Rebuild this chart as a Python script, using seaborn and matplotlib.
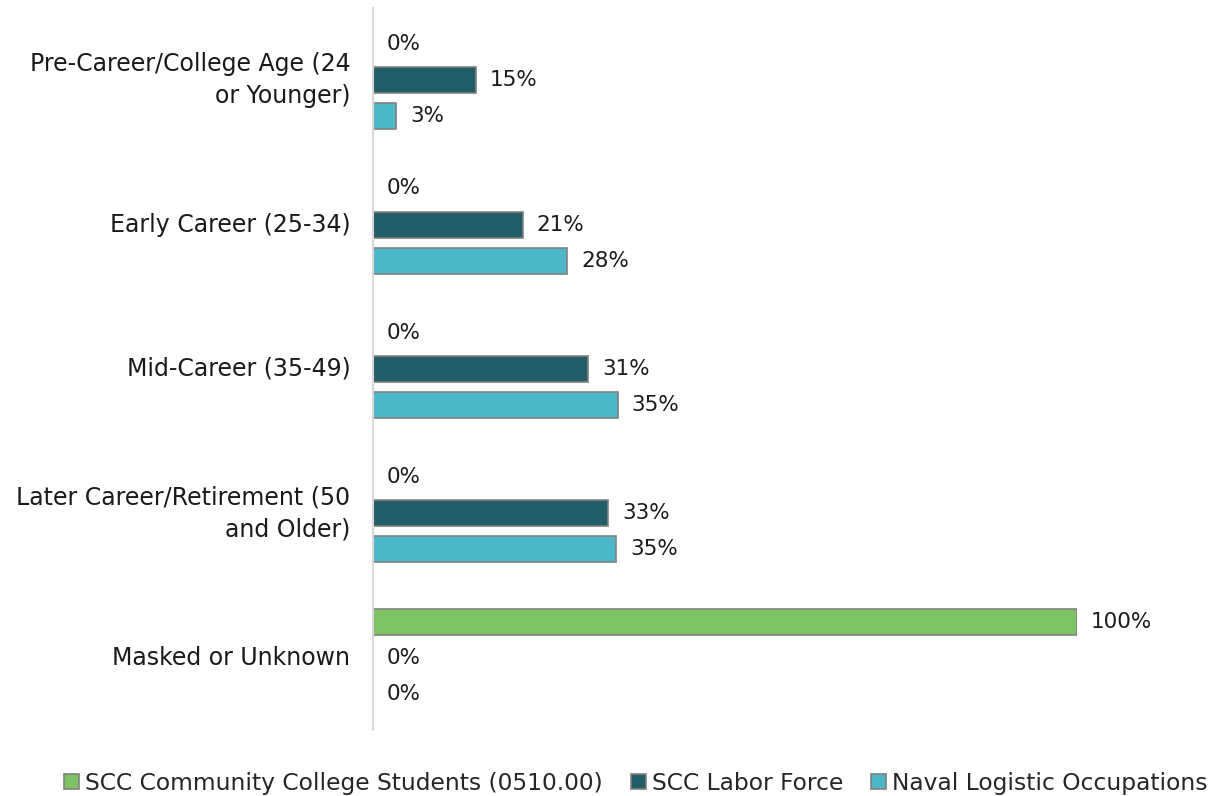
import pandas as pd
import seaborn as sns
import matplotlib.pyplot as plt

categories = [
    "Pre-Career/College Age (24\nor Younger)",
    "Early Career (25-34)",
    "Mid-Career (35-49)",
    "Later Career/Retirement (50\nand Older)",
    "Masked or Unknown",
]
series = [
    "SCC Community College Students (0510.00)",
    "SCC Labor Force",
    "Naval Logistic Occupations",
]
students = [0.0, 0.0, 0.0, 0.0, 1.0]
labor_force = [0.146, 0.213, 0.306, 0.334, 0.0]
naval = [0.033, 0.276, 0.348, 0.346, 0.0]
colors = ["#7DC363", "#215E68", "#4BB7C7"]

rows = []
for s, vals in zip(series, [students, labor_force, naval]):
    for c, v in zip(categories, vals):
        rows.append({"category": c, "series": s, "value": v})
df = pd.DataFrame(rows)

sns.set_style("white")
plt.rcParams["font.family"] = ["DejaVu Sans"]

fig = plt.figure(figsize=(12.22, 7.96), dpi=100)
ax = fig.add_axes([0.305, 0.083, 1077 / 1222 - 0.305, 0.907])

sns.barplot(data=df, y="category", x="value", hue="series", order=categories,
            hue_order=series, palette=colors, saturation=1, orient="h", width=0.75, gap=0.28,
            edgecolor="#808080", linewidth=1.2, ax=ax)

for cont in ax.containers:
    ax.bar_label(cont, labels=[f"{v:.0%}" for v in cont.datavalues],
                 padding=10, fontsize=15.5, color="#1a1a1a")

ax.set_xlim(0, 1.0)
ax.set_xlabel("")
ax.set_ylabel("")
ax.set_xticks([])
ax.tick_params(axis="y", length=0, pad=16, labelsize=17, labelcolor="#1a1a1a")
for lbl in ax.get_yticklabels():
    lbl.set_horizontalalignment("right")
    lbl.set_verticalalignment("center")
    lbl.set_multialignment("right")
    lbl.set_linespacing(1.4)
for side in ["top", "right", "bottom"]:
    ax.spines[side].set_visible(False)
ax.spines["left"].set_color("#d9d9d9")
ax.spines["left"].set_linewidth(1.5)

ax.legend(loc="center", bbox_to_anchor=(636 / 1222, 0.016), bbox_transform=fig.transFigure,
          ncol=3, frameon=False, fontsize=16.8, handlelength=0.65, handleheight=0.65,
          handletextpad=0.25, columnspacing=1.2)

fig.savefig("out.png", dpi=100)
